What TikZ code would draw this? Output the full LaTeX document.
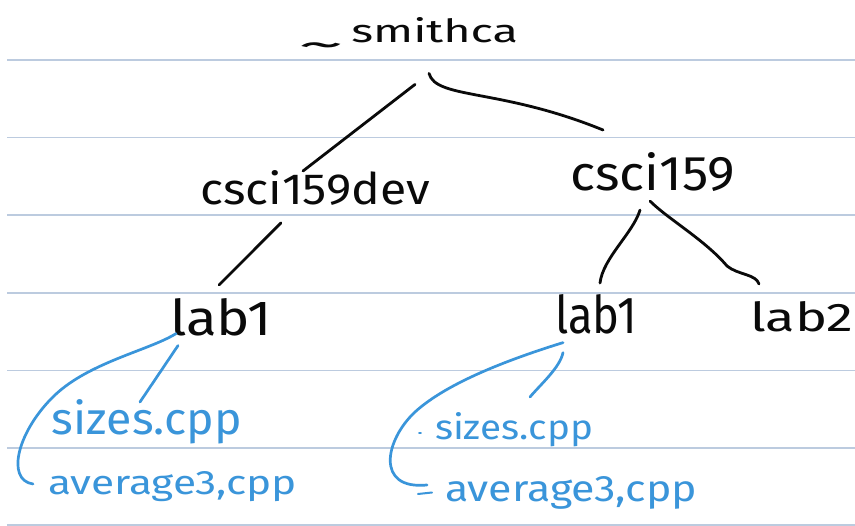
\documentclass[tikz,border=0pt]{standalone}
\usepackage{fontspec}
\setmainfont{Fira Sans}
\usepackage{graphicx}
\definecolor{rulecol}{HTML}{BCCBDF}
\definecolor{ink}{HTML}{0A0A0A}
\definecolor{pen}{HTML}{3A95DA}
% text squeezed into a box: width, height above baseline, text
\newcommand\handtext[3]{\resizebox{#1pt}{#2pt}{\fontsize{20}{24}\selectfont #3}}
\tikzset{
  hand/.style={inner sep=0pt, outer sep=0pt, anchor=base west, text=ink},
  note/.style={hand, text=pen},
  wire/.style={draw=ink, line width=2.8pt, line cap=round, line join=round},
  bluewire/.style={draw=pen, line width=2.7pt, line cap=round, line join=round},
  ruling/.style={draw=rulecol, line width=1.1pt}
}
\begin{document}
\begin{tikzpicture}[x=1pt,y=-1pt]
\useasboundingbox (0,0) rectangle (855,526);
\fill[white] (0,0) rectangle (855,526);

% ruled paper
\foreach \y in {60,137.5,215,293,370.5,448,525}
  \draw[ruling] (7,\y) -- (855,\y);

% directory names
\node[hand] (root) at (298,43)  {\handtext{220}{25}{\raisebox{-0.45em}{\scalebox{2}[1.2]{\textasciitilde}}\,smithca}};
\node[hand] (dev)  at (200,205) {\handtext{230}{34}{csci159dev}};
\node[hand] (cs)   at (570,191) {\handtext{165}{38}{csci159}};
\node[hand] (labA) at (170,336) {\handtext{102}{37}{lab1}};
\node[hand] (labB) at (555,334) {\handtext{82}{39}{lab1}};
\node[hand] (labC) at (750,332) {\handtext{103}{30}{lab2}};

% files
\node[note] (sizA) at (52,435)  {\handtext{190}{35}{sizes.cpp}};
\node[note] (avgA) at (48,495)  {\handtext{249}{23}{average3,cpp}};
\node[note] (sizB) at (435,440) {\handtext{158}{27}{sizes.cpp}};
\node[note] (avgB) at (445,502) {\handtext{252}{25}{average3,cpp}};

% tree branches
\draw[wire] ([shift={(7,27)}]root.south) -- ([shift={(-12,0)}]dev.north);
\draw[wire] ([shift={(21,16)}]root.south)
  .. controls +(7,26) and +(-103,-42) .. ([shift={(-49.5,-23)}]cs.north);
\draw[wire] ([shift={(-34,17)}]dev.south) -- ([shift={(-2,-14)}]labA.north);
\draw[wire] ([shift={(-12.5,18)}]cs.south)
  .. controls +(-7,23) and +(3,-25) .. ([shift={(4,-12)}]labB.north);
\draw[wire] ([shift={(-2.5,9)}]cs.south)
  .. controls +(18,18) and (705,240) .. (727,266)
  .. controls (738,275) and (756,274) .. ([shift={(-42.5,-18)}]labC.north);

% file branches
\draw[bluewire] ([shift={(-43,9)}]labA.south) -- ([shift={(-7,2)}]sizA.north);
\draw[bluewire] ([shift={(-45,-3)}]labA.south)
  .. controls (150,350) and (90,362) .. (55,395)
  .. controls (18,430) and (5,480) .. ([shift={(-15,-11)}]avgA.base west);
\draw[bluewire] ([shift={(-33,18)}]labB.south)
  .. controls +(-3,15) and +(10,-12) .. ([shift={(16,-16)}]sizB.north);
\draw[bluewire] ([shift={(-33,8)}]labB.south)
  .. controls (520,356) and (450,380) .. (415,412)
  .. controls (385,440) and (375,490) .. ([shift={(-18,-17)}]avgB.base west);

% small pen marks in front of the right-hand files
\draw[bluewire, line width=1.8pt] ([shift={(-16,-7)}]sizB.base west) -- ++(2,0);
\draw[bluewire, line width=2pt] ([shift={(-27,-8)}]avgB.base west) -- ++(14,-1.5);
\end{tikzpicture}
\end{document}
